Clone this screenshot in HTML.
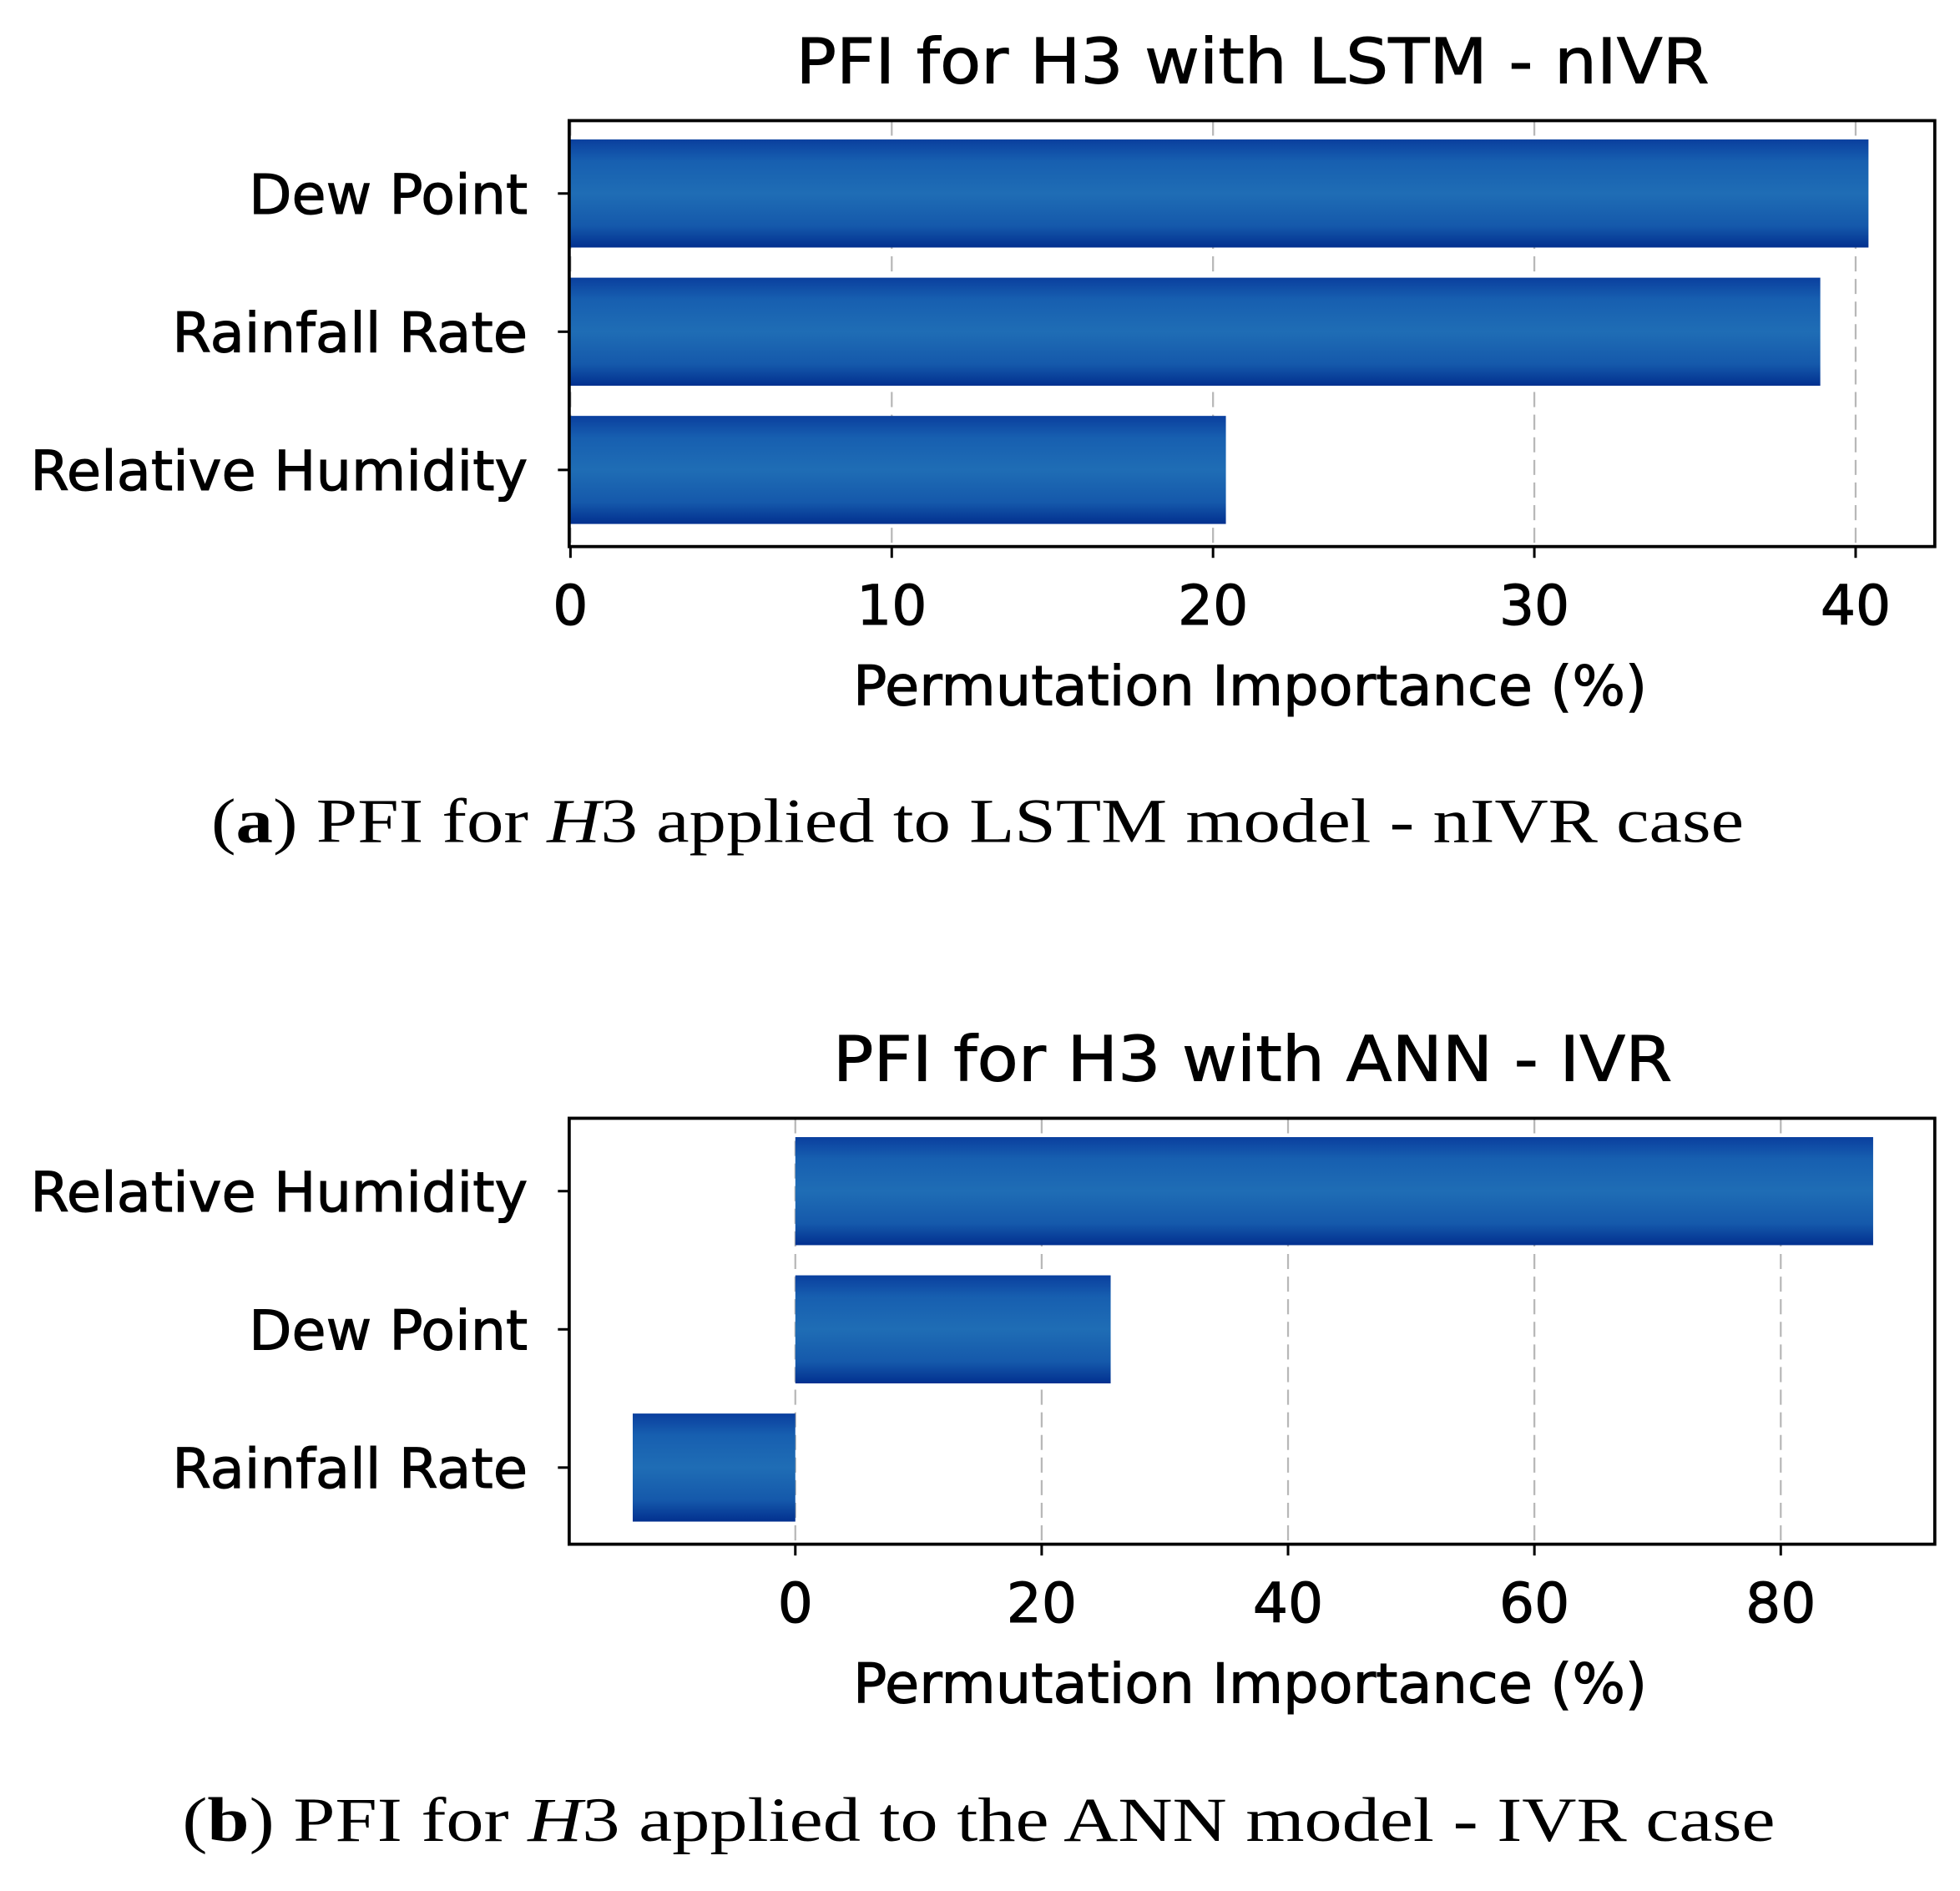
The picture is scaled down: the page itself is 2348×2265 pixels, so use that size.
<!DOCTYPE html>
<html>
<head>
<meta charset="utf-8">
<style>
html,body{margin:0;padding:0;background:#fff;}
svg{display:block;}
.tick{font-family:"DejaVu Sans","Liberation Sans",sans-serif;font-size:44px;fill:#000;stroke:#000;stroke-width:0.7px;}
.ttl{font-family:"DejaVu Sans","Liberation Sans",sans-serif;font-size:50px;fill:#000;stroke:#000;stroke-width:0.6px;}
.cap{font-family:"Liberation Serif",serif;font-size:50px;fill:#000;}
</style>
</head>
<body>
<svg id="root" width="2348" height="2265" viewBox="0 0 1560 1505" xmlns="http://www.w3.org/2000/svg">
<defs>
<linearGradient id="barv" x1="0" y1="0" x2="0" y2="1">
<stop offset="0" stop-color="#0a3f9e"/>
<stop offset="0.2" stop-color="#175fb0"/>
<stop offset="0.5" stop-color="#1f6db5"/>
<stop offset="0.8" stop-color="#1559ab"/>
<stop offset="1" stop-color="#02308f"/>
</linearGradient>
</defs>
<g id="chartA"></g>
<g id="chartB"></g>
<text class="cap" x="168" y="670" textLength="1220" lengthAdjust="spacingAndGlyphs">(<tspan font-weight="bold">a</tspan>) PFI for <tspan font-style="italic">H</tspan>3 applied to LSTM model - nIVR case</text>
<text class="cap" x="145" y="1465" textLength="1268" lengthAdjust="spacingAndGlyphs">(<tspan font-weight="bold">b</tspan>) PFI for <tspan font-style="italic">H</tspan>3 applied to the ANN model - IVR case</text>
</svg>
<script>
const catsA = ["Dew Point","Rainfall Rate","Relative Humidity"];
const valsA = [40.4, 38.9, 20.4];
const ticksA = [0,10,20,30,40];
const catsB = ["Relative Humidity","Dew Point","Rainfall Rate"];
const valsB = [87.5, 25.6, -13.2];
const ticksB = [0,20,40,60,80];

const labelW = {"Dew Point":222,"Rainfall Rate":283,"Relative Humidity":396};
const NS="http://www.w3.org/2000/svg";
function mk(parent, tag, attrs){const e=document.createElementNS(NS,tag);for(const k in attrs)e.setAttribute(k,attrs[k]);parent.appendChild(e);return e;}

function drawChart(g, cfg){
  const L=453,R=1540,T=cfg.top,B=cfg.top+339;
  const xs=v=>cfg.x0+(v-cfg.v0)*cfg.k;
  const t=mk(g,'text',{x:997,y:cfg.top-30,'text-anchor':'middle',class:'ttl',textLength:cfg.tw,lengthAdjust:'spacingAndGlyphs'});
  t.textContent=cfg.title;
  
  
  cfg.ticks.forEach(v=>{
    const x=xs(v);
    const gl=mk(g,'line',{x1:x,x2:x,y1:T,y2:B,stroke:'#b8b8b8','stroke-width':1.5,'stroke-dasharray':'12,6'});
    
    
  });
  const bh=86, step=110, first=T+15;
  cfg.cats.forEach((c,i)=>{
    const v=cfg.vals[i];
    const x1=xs(Math.min(0,v)), x2=xs(Math.max(0,v));
    const y=first+i*step;
    const r=mk(g,'rect',{x:x1,y:y,width:x2-x1,height:bh,fill:'url(#barv)'});
    
    
    mk(g,'line',{x1:L-9,x2:L,y1:y+bh/2,y2:y+bh/2,stroke:'#000','stroke-width':2});
    const lb=mk(g,'text',{x:420,y:y+bh/2+16,'text-anchor':'end',class:'tick',textLength:labelW[c]||300,lengthAdjust:'spacingAndGlyphs'});
    lb.textContent=c;
    
    
  });
  const fr=mk(g,'rect',{x:L,y:T,width:R-L,height:B-T,fill:'none',stroke:'#000','stroke-width':2.5});
  
  
  cfg.ticks.forEach(v=>{
    const x=xs(v);
    mk(g,'line',{x1:x,x2:x,y1:B,y2:B+9,stroke:'#000','stroke-width':2});
    const tl=mk(g,'text',{x:x,y:B+62,'text-anchor':'middle',class:'tick'});
    tl.textContent=String(v);
    
    
  });
  const xl=mk(g,'text',{x:995,y:B+126,'text-anchor':'middle',class:'tick',textLength:632,lengthAdjust:'spacingAndGlyphs'});
  xl.textContent='Permutation Importance (%)';
  
  
}
drawChart(document.getElementById('chartA'),{top:96,title:'PFI for H3 with LSTM - nIVR',tw:727,cats:catsA,vals:valsA,ticks:ticksA,x0:454,v0:0,k:25.575});
drawChart(document.getElementById('chartB'),{top:890,title:'PFI for H3 with ANN - IVR',tw:668,cats:catsB,vals:valsB,ticks:ticksB,x0:633,v0:0,k:9.805});
</script>
</body>
</html>
